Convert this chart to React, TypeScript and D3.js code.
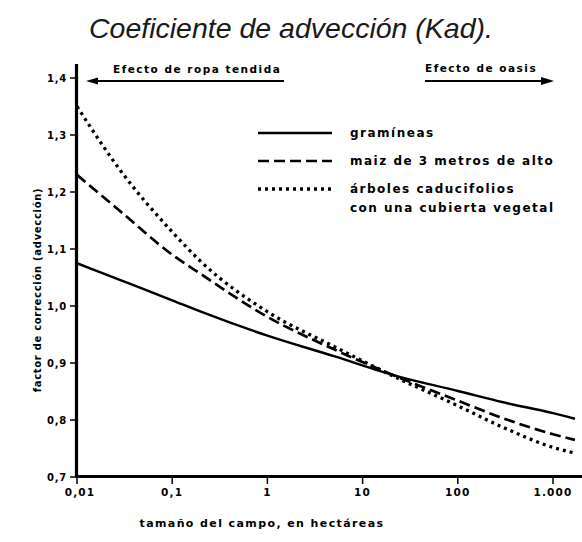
import React from "react";
import * as d3 from "d3";

// tamaño del campo (ha) y factor de corrección
const sizes = [0.01, 0.03, 0.1, 0.2, 1, 5, 23, 100, 300, 1000, 1700];
const gramineas = [1.075, 1.044, 1.01, 0.99, 0.948, 0.912, 0.877, 0.851, 0.831, 0.812, 0.802];
const maiz = [1.23, 1.163, 1.09, 1.056, 0.981, 0.924, 0.876, 0.834, 0.803, 0.775, 0.765];
const arboles = [1.35, 1.233, 1.13, 1.078, 0.99, 0.929, 0.874, 0.825, 0.787, 0.752, 0.742];

const yTicks = [0.7, 0.8, 0.9, 1.0, 1.1, 1.2, 1.3, 1.4];
const xTicks = [0.01, 0.1, 1, 10, 100, 1000];
const xTickLabels = ["0,01", "0,1", "1", "10", "100", "1.000"];

const W = 582, H = 542;
const labelFont = "'DejaVu Sans', sans-serif";

const x = d3.scaleLog().domain([0.01, 1000]).range([77, 553]);
const y = d3.scaleLinear().domain([0.7, 1.4]).range([477, 78]);

const series = [
  { name: "gramíneas", values: gramineas, dash: "none", width: 2.5 },
  { name: "maiz de 3 metros de alto", values: maiz, dash: "11 5", width: 2.7 },
  { name: "árboles caducifolios", values: arboles, dash: "3 4", width: 3.3 },
];

const line = d3
  .line<[number, number]>()
  .x((d) => x(d[0]))
  .y((d) => y(d[1]))
  .curve(d3.curveMonotoneX);

export default function App() {
  const fmt = (v: number) => v.toFixed(1).replace(".", ",");
  return (
    <svg
      width={W}
      height={H}
      style={{ position: "absolute", left: 0, top: 0, background: "#fff" }}
    >
      <text
        x={W / 2}
        y={38}
        textAnchor="middle"
        fontFamily="'Liberation Sans', Arial, sans-serif"
        fontStyle="italic"
        fontSize={28.5}
        fill="#1a1a1a"
      >
        Coeficiente de advección (Kad).
      </text>

      {/* flechas superiores */}
      <g fontFamily={labelFont} fontWeight="bold" fontSize={10.5} fill="#000" letterSpacing={1.5}>
        <text x={113} y={73}>Efecto de ropa tendida</text>
        <text x={425} y={72}>Efecto de oasis</text>
      </g>
      <line x1={92} x2={284} y1={81} y2={81} stroke="#000" strokeWidth={1.8} />
      <path d="M86,81 L98,77.5 L98,84.5 Z" fill="#000" />
      <line x1={425} x2={545} y1={81} y2={81} stroke="#000" strokeWidth={1.8} />
      <path d="M554,81 L541,77 L541,85 Z" fill="#000" />

      {/* ejes */}
      <line x1={76.5} x2={76.5} y1={64} y2={478} stroke="#000" strokeWidth={3.2} />
      <line x1={75} x2={582} y1={476.5} y2={476.5} stroke="#000" strokeWidth={3} />

      {yTicks.map((t) => (
        <g key={t}>
          <line x1={70} x2={77} y1={y(t)} y2={y(t)} stroke="#000" strokeWidth={1.5} />
          <text
            x={67}
            y={y(t) + 4}
            textAnchor="end"
            fontFamily={labelFont}
            fontWeight="bold"
            fontSize={10}
            letterSpacing={0.8}
          >
            {fmt(t)}
          </text>
        </g>
      ))}

      {xTicks.map((t, i) => (
        <g key={t}>
          <line x1={x(t)} x2={x(t)} y1={477} y2={484} stroke="#000" strokeWidth={1.5} />
          <text
            x={x(t) + (i === 0 ? 3 : 0)}
            y={496}
            textAnchor="middle"
            fontFamily={labelFont}
            fontWeight="bold"
            fontSize={10.5}
            letterSpacing={1.2}
          >
            {xTickLabels[i]}
          </text>
        </g>
      ))}

      <text
        x={262}
        y={527}
        textAnchor="middle"
        fontFamily={labelFont}
        fontWeight="bold"
        fontSize={11}
        letterSpacing={1.4}
      >
        tamaño del campo, en hectáreas
      </text>
      <text
        transform="translate(41,290) rotate(-90)"
        textAnchor="middle"
        fontFamily={labelFont}
        fontWeight="bold"
        fontSize={10}
        letterSpacing={0.7}
      >
        factor de corrección (advección)
      </text>

      {/* curvas */}
      {series.map((s) => (
        <path
          key={s.name}
          d={line(sizes.map((v, i) => [v, s.values[i]]) as [number, number][]) || ""}
          fill="none"
          stroke="#000"
          strokeWidth={s.width}
          strokeDasharray={s.dash}
        />
      ))}

      {/* leyenda */}
      {series.map((s, i) => (
        <g key={"leg" + s.name} transform={`translate(0,${133 + i * 28})`}>
          <line
            x1={258}
            x2={332}
            y1={0}
            y2={0}
            stroke="#000"
            strokeWidth={s.width}
            strokeDasharray={s.dash}
          />
          <text
            x={350}
            y={4}
            fontFamily={labelFont}
            fontWeight="bold"
            fontSize={12}
            letterSpacing={1.5}
          >
            {s.name}
          </text>
        </g>
      ))}
      <text
        x={350}
        y={212}
        fontFamily={labelFont}
        fontWeight="bold"
        fontSize={12}
        letterSpacing={1.5}
      >
        con una cubierta vegetal
      </text>
    </svg>
  );
}
